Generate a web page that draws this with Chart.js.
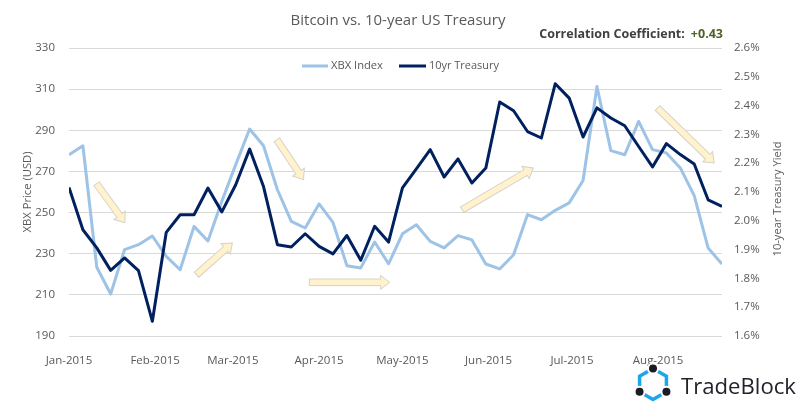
<!DOCTYPE html>
<html>
<head>
<meta charset="utf-8">
<script src="https://cdn.jsdelivr.net/npm/chart.js@4"></script>
<style>
html,body{margin:0;padding:0;background:#fff;}
#wrap{width:797px;height:402px;position:relative;}
</style>
</head>
<body>
<div id="wrap"><canvas id="c" width="797" height="402"></canvas></div>
<script>
// ---- data ----
const dates = ['2015-01-01','2015-01-06','2015-01-11','2015-01-16','2015-01-21','2015-01-26','2015-01-31',
  '2015-02-05','2015-02-10','2015-02-15','2015-02-20','2015-02-25','2015-03-02','2015-03-07','2015-03-12',
  '2015-03-17','2015-03-22','2015-03-27','2015-04-01','2015-04-06','2015-04-11','2015-04-16','2015-04-21',
  '2015-04-26','2015-05-01','2015-05-06','2015-05-11','2015-05-16','2015-05-21','2015-05-26','2015-05-31',
  '2015-06-05','2015-06-10','2015-06-15','2015-06-20','2015-06-25','2015-06-30','2015-07-05','2015-07-10',
  '2015-07-15','2015-07-20','2015-07-25','2015-07-30','2015-08-04','2015-08-09','2015-08-14','2015-08-19','2015-08-24'];
const xbxIndex = [278.1,282.5,223.4,210.4,232.0,234.4,238.6,228.7,222.2,243.3,236.2,255.5,273.3,290.6,282.5,
  261.1,245.7,242.5,254.2,245.2,224.2,223.1,235.7,225.1,239.7,244.1,236.0,232.8,238.8,236.7,225.0,222.6,
  229.5,249.0,246.5,251.1,254.7,265.6,311.3,280.1,278.1,294.3,280.6,279.0,271.7,258.2,232.8,225.0];
const treasury10yr = [2.116,1.969,1.906,1.828,1.871,1.827,1.651,1.960,2.021,2.021,2.114,2.031,2.125,2.249,2.119,
  1.917,1.909,1.955,1.911,1.885,1.949,1.863,1.981,1.926,2.114,2.180,2.247,2.152,2.215,2.131,2.183,2.4125,
  2.382,2.310,2.2875,2.476,2.426,2.291,2.392,2.357,2.330,2.258,2.187,2.268,2.230,2.197,2.073,2.050];
const monthLabels = ['Jan-2015','Feb-2015','Mar-2015','Apr-2015','May-2015','Jun-2015','Jul-2015','Aug-2015'];
const monthDates = ['2015-01-01','2015-02-01','2015-03-01','2015-04-01','2015-05-01','2015-06-01','2015-07-01','2015-08-01'];
const seriesNames = ['XBX Index','10yr Treasury'];
const titleText = 'Bitcoin vs. 10-year US Treasury';
const corrLabel = 'Correlation Coefficient:';
const corrValue = '+0.43';
// trend arrows: [fromDay, fromPrice, toDay, toPrice]
const trendArrows = [[9.9,264.0,20.1,245.1],[45.9,219.8,58.8,235.2],[74.8,285.4,84.4,266.0],
  [86.5,216.1,115.4,216.1],[141.5,251.4,167.1,271.7],[211.8,300.8,232.2,274.1]];

// ---- helpers ----
const DAY = 86400000;
const base = Date.UTC(2015,0,1);
const toDay = s => { const p = s.split('-').map(Number); return (Date.UTC(p[0],p[1]-1,p[2]) - base)/DAY; };
const days = dates.map(toDay);
const monthDays = monthDates.map(toDay);

const TXT = '#595959';
const FONT = '"Open Sans", "Noto Sans", sans-serif';
const LIGHT = '#9DC3E6';
const DARK = '#002060';

function fitFont(ctx, text, weight, size, target){
  ctx.font = weight + ' ' + size + 'px ' + FONT;
  const w = ctx.measureText(text).width;
  const s = size * target / w;
  ctx.font = weight + ' ' + s.toFixed(2) + 'px ' + FONT;
}

const deco = {
  id: 'deco',
  afterDatasetsDraw(chart){
    const ctx = chart.ctx, xs = chart.scales.x, ys = chart.scales.y;
    ctx.save();
    trendArrows.forEach(a => {
      const x1 = xs.getPixelForValue(a[0]), y1 = ys.getPixelForValue(a[1]);
      const x2 = xs.getPixelForValue(a[2]), y2 = ys.getPixelForValue(a[3]);
      const len = Math.hypot(x2-x1, y2-y1), ang = Math.atan2(y2-y1, x2-x1);
      const sw = 3.3, hw = 7, hl = 9;
      ctx.save();
      ctx.translate(x1, y1); ctx.rotate(ang);
      ctx.beginPath();
      ctx.moveTo(0,-sw); ctx.lineTo(len-hl,-sw); ctx.lineTo(len-hl,-hw); ctx.lineTo(len,0);
      ctx.lineTo(len-hl,hw); ctx.lineTo(len-hl,sw); ctx.lineTo(0,sw); ctx.closePath();
      ctx.fillStyle = '#FFF2CC'; ctx.fill();
      ctx.strokeStyle = '#D6D2C8'; ctx.lineWidth = 1; ctx.stroke();
      ctx.restore();
    });
    ctx.restore();
  },
  afterDraw(chart){
    const ctx = chart.ctx, ca = chart.chartArea;
    ctx.save();
    // title
    ctx.fillStyle = TXT; ctx.textAlign = 'center'; ctx.textBaseline = 'middle';
    fitFont(ctx, titleText, 'normal', 15, 215);
    ctx.fillText(titleText, 398, 21);
    // correlation
    ctx.font = 'bold 12.5px ' + FONT;
    ctx.textAlign = 'right';
    ctx.fillStyle = '#4F6228';
    ctx.fillText(corrValue, 723, 34);
    const vw = ctx.measureText(corrValue).width;
    ctx.fillStyle = '#404040';
    ctx.fillText(corrLabel, 723 - vw - 6, 34);
    // legend
    ctx.textAlign = 'left'; ctx.fillStyle = TXT;
    ctx.lineWidth = 3; ctx.lineCap = 'butt';
    ctx.strokeStyle = LIGHT; ctx.beginPath(); ctx.moveTo(302,66); ctx.lineTo(328,66); ctx.stroke();
    fitFont(ctx, seriesNames[0], 'normal', 12, 52);
    ctx.fillText(seriesNames[0], 331, 66);
    ctx.strokeStyle = DARK; ctx.beginPath(); ctx.moveTo(399,66); ctx.lineTo(426,66); ctx.stroke();
    fitFont(ctx, seriesNames[1], 'normal', 12, 70);
    ctx.fillText(seriesNames[1], 429, 66);
    // axis titles
    const cy = (ca.top + ca.bottom)/2;
    ctx.textAlign = 'center';
    fitFont(ctx, 'XBX Price (USD)', 'normal', 11.5, 81);
    ctx.save(); ctx.translate(28, 192); ctx.rotate(-Math.PI/2); ctx.fillText('XBX Price (USD)', 0, 0); ctx.restore();
    fitFont(ctx, '10-year Treasury Yield', 'normal', 11.5, 115);
    ctx.save(); ctx.translate(778, 199); ctx.rotate(-Math.PI/2); ctx.fillText('10-year Treasury Yield', 0, 0); ctx.restore();
    // logo
    const hx = 653, hy = 384, r = 15.5;
    const pts = [];
    for (let i = 0; i < 6; i++) { const t = -Math.PI/2 + i*Math.PI/3; pts.push([hx + r*Math.cos(t), hy + r*Math.sin(t)]); }
    ctx.strokeStyle = '#1EA7E8'; ctx.lineWidth = 3.5; ctx.lineJoin = 'miter';
    ctx.beginPath(); pts.forEach((p,i)=> i? ctx.lineTo(p[0],p[1]) : ctx.moveTo(p[0],p[1])); ctx.closePath(); ctx.stroke();
    [pts[0], pts[2], pts[4]].forEach(p => {
      ctx.beginPath(); ctx.arc(p[0], p[1], 6, 0, Math.PI*2); ctx.fillStyle = '#fff'; ctx.fill();
      ctx.beginPath(); ctx.arc(p[0], p[1], 4, 0, Math.PI*2); ctx.fillStyle = '#1B1B24'; ctx.fill();
    });
    ctx.fillStyle = '#22222C'; ctx.textAlign = 'left'; ctx.textBaseline = 'alphabetic';
    fitFont(ctx, 'TradeBlock', 'normal', 24, 115);
    ctx.fillText('TradeBlock', 681, 394);
    ctx.restore();
  }
};

new Chart(document.getElementById('c'), {
  type: 'line',
  data: {
    datasets: [
      { label: seriesNames[1], data: days.map((d,i)=>({x:d, y:treasury10yr[i]})), yAxisID: 'y2',
        borderColor: DARK, borderWidth: 3, pointRadius: 0, tension: 0, borderJoinStyle: 'round', order: 0 },
      { label: seriesNames[0], data: days.map((d,i)=>({x:d, y:xbxIndex[i]})), yAxisID: 'y',
        borderColor: LIGHT, borderWidth: 3, pointRadius: 0, tension: 0, borderJoinStyle: 'round', order: 1 }
    ]
  },
  options: {
    responsive: false, animation: false, events: [],
    layout: { padding: { top: 48, left: 0, right: 0, bottom: 0 } },
    plugins: { legend: { display: false }, title: { display: false }, tooltip: { enabled: false } },
    scales: {
      x: {
        type: 'linear', min: 0, max: days[days.length-1],
        grid: { display: false }, border: { display: false },
        afterBuildTicks: s => { s.ticks = monthDays.map(v => ({ value: v })); },
        afterFit: s => { s.height = 66; },
        ticks: { autoSkip: false, maxRotation: 0, color: TXT, font: { family: FONT, size: 11.5 }, padding: 10,
          callback: v => { const i = monthDays.indexOf(v); return i >= 0 ? monthLabels[i] : ''; } }
      },
      y: {
        position: 'left', min: 190, max: 330,
        grid: { color: '#D9D9D9', lineWidth: 1, drawTicks: false }, border: { display: false },
        afterFit: s => { s.width = 69; },
        ticks: { stepSize: 20, color: TXT, font: { family: FONT, size: 11.5 }, padding: 14 }
      },
      y2: {
        position: 'right', min: 1.6, max: 2.6,
        grid: { display: false, drawTicks: false }, border: { display: false },
        afterFit: s => { s.width = 75; },
        ticks: { stepSize: 0.1, color: TXT, font: { family: FONT, size: 11.5 }, padding: 12,
          callback: v => v.toFixed(1) + '%' }
      }
    }
  },
  plugins: [deco]
});
</script>
</body>
</html>
